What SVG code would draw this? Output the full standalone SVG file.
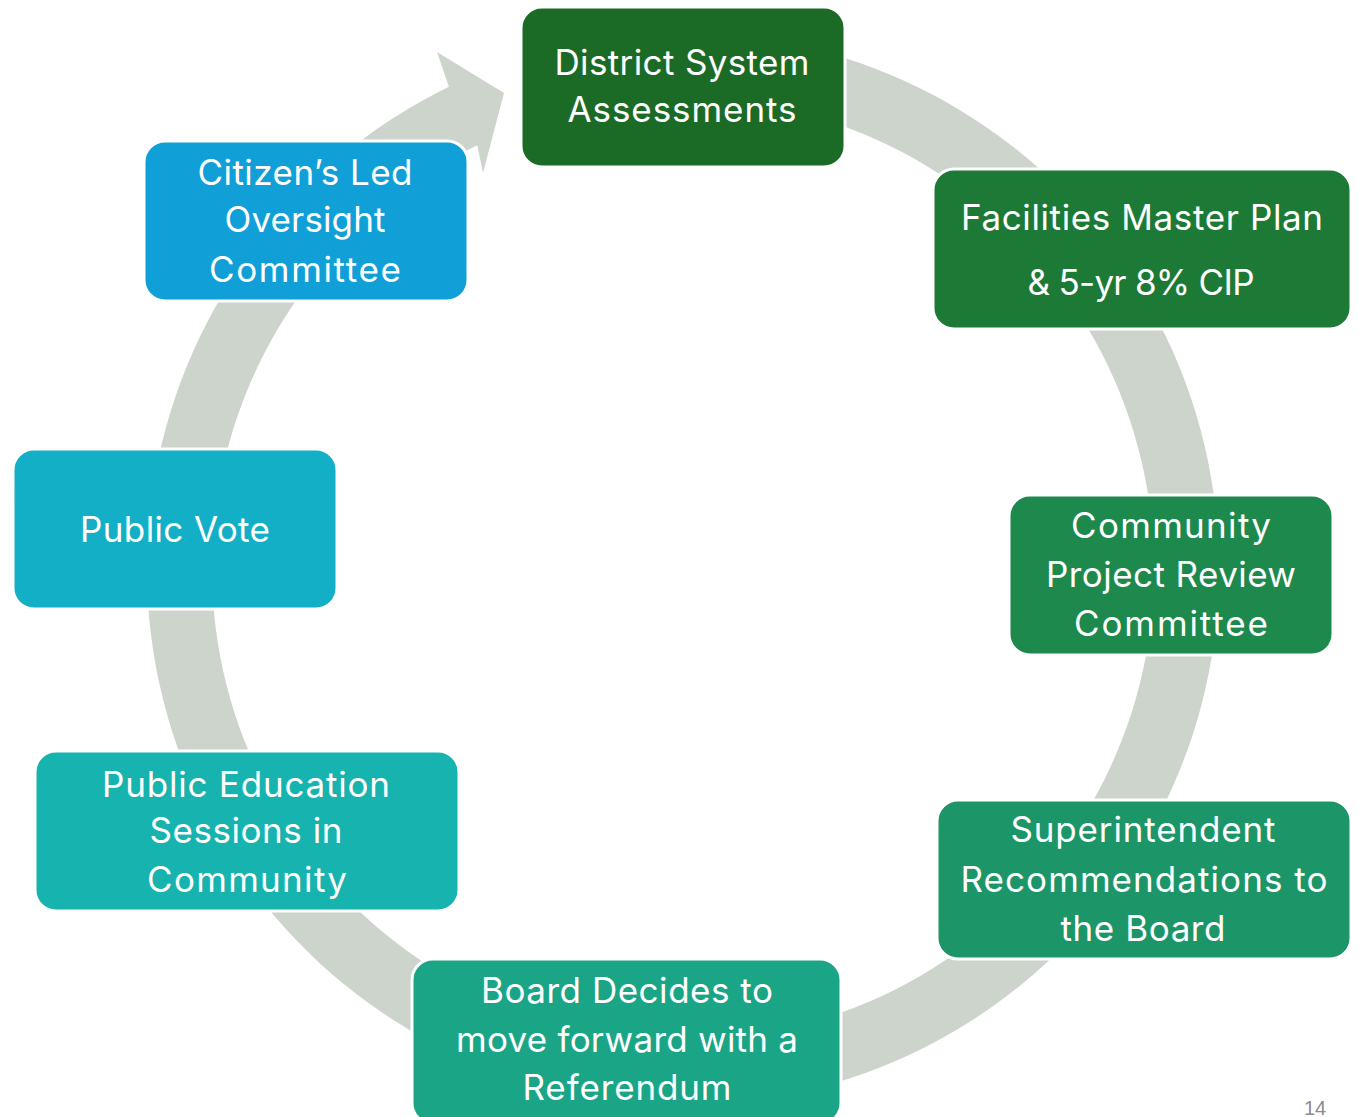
<svg xmlns="http://www.w3.org/2000/svg" width="1359" height="1117" viewBox="0 0 1359 1117">
<style>
.box{stroke:#ffffff;stroke-width:3}
.t{font-family:Inter,"Open Sans","Liberation Sans",sans-serif;font-size:35px;fill:#ffffff;text-anchor:middle}
.pg{font-family:"Liberation Sans",Arial,sans-serif;font-size:20px;fill:#8c8c8c}
</style>
<rect width="1359" height="1117" fill="#ffffff"/>
<g id="connectors">
<path d="M 683 33 A 536 536 0 1 1 448.9 86.8 L 437 52 L 504 93 L 483 173 L 477.3 145.3 A 471 471 0 1 0 683 98 Z" fill="#CDD4CC"/>
</g>
<g id="n1">
<rect class="box" x="521" y="7" width="324" height="160" rx="21" fill="#1B6B27"/>
<text class="t" x="682" y="75" textLength="255" lengthAdjust="spacing">District System</text>
<text class="t" x="682" y="122" textLength="229" lengthAdjust="spacing">Assessments</text>
</g>
<g id="n2">
<rect class="box" x="933" y="169" width="418" height="160" rx="21" fill="#1D7A36"/>
<text class="t" x="1142" y="230" textLength="362" lengthAdjust="spacing">Facilities Master Plan</text>
<text class="t" x="1141" y="295" textLength="227" lengthAdjust="spacing">&amp; 5-yr 8% CIP</text>
</g>
<g id="n3">
<rect class="box" x="1009" y="495" width="324" height="160" rx="21" fill="#1D894D"/>
<text class="t" x="1171" y="538" textLength="200" lengthAdjust="spacing">Community</text>
<text class="t" x="1171" y="587" textLength="250" lengthAdjust="spacing">Project Review</text>
<text class="t" x="1171" y="636" textLength="194" lengthAdjust="spacing">Committee</text>
</g>
<g id="n4">
<rect class="box" x="937" y="800" width="414" height="159" rx="21" fill="#1C9668"/>
<text class="t" x="1143" y="842" textLength="265" lengthAdjust="spacing">Superintendent</text>
<text class="t" x="1144" y="892" textLength="367" lengthAdjust="spacing">Recommendations to</text>
<text class="t" x="1143" y="941" textLength="165" lengthAdjust="spacing">the Board</text>
</g>
<g id="n5">
<rect class="box" x="412" y="959" width="429" height="165" rx="21" fill="#1AA586"/>
<text class="t" x="627" y="1003" textLength="292" lengthAdjust="spacing">Board Decides to</text>
<text class="t" x="627" y="1052" textLength="342" lengthAdjust="spacing">move forward with a</text>
<text class="t" x="627" y="1100" textLength="209" lengthAdjust="spacing">Referendum</text>
</g>
<g id="n6">
<rect class="box" x="35" y="751" width="424" height="160" rx="21" fill="#17B3AE"/>
<text class="t" x="246" y="797" textLength="288" lengthAdjust="spacing">Public Education</text>
<text class="t" x="246" y="843" textLength="193" lengthAdjust="spacing">Sessions in</text>
<text class="t" x="247" y="892" textLength="200" lengthAdjust="spacing">Community</text>
</g>
<g id="n7">
<rect class="box" x="13" y="449" width="324" height="160" rx="21" fill="#13AFC6"/>
<text class="t" x="175" y="542" textLength="190" lengthAdjust="spacing">Public Vote</text>
</g>
<g id="n8">
<rect class="box" x="144" y="141" width="324" height="160" rx="21" fill="#119FD7"/>
<text class="t" x="305" y="185" textLength="215" lengthAdjust="spacing">Citizen’s Led</text>
<text class="t" x="305" y="232" textLength="161" lengthAdjust="spacing">Oversight</text>
<text class="t" x="305" y="282" textLength="192" lengthAdjust="spacing">Committee</text>
</g>
<text class="pg" x="1304" y="1115">14</text>
</svg>
